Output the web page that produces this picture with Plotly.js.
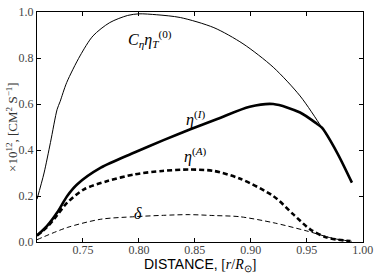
<!DOCTYPE html>
<html><head><meta charset="utf-8">
<script src="https://cdn.plot.ly/plotly-3.0.1.min.js"></script>
<style>html,body{margin:0;padding:0;background:#fff}#c{width:374px;height:274px}</style>
</head><body><div id="c"></div>
<script>
// C_eta * eta_T^(0)
const xC = [0.709, 0.7153, 0.721, 0.727, 0.7296, 0.7355, 0.7474, 0.759, 0.774, 0.79, 0.80, 0.816, 0.837, 0.867, 0.893, 0.920, 0.944, 0.9635, 0.977, 0.990];
const yC = [0.186, 0.30, 0.432, 0.577, 0.61, 0.693, 0.809, 0.896, 0.954, 0.985, 0.992, 0.988, 0.976, 0.932, 0.862, 0.760, 0.635, 0.497, 0.389, 0.258];
// eta^(I)
const xI = [0.709, 0.718, 0.727, 0.736, 0.745, 0.766, 0.796, 0.822, 0.846, 0.870, 0.899, 0.920, 0.944, 0.959, 0.9635, 0.977, 0.9903];
const yI = [0.028, 0.07, 0.128, 0.2, 0.251, 0.323, 0.389, 0.443, 0.49, 0.535, 0.588, 0.600, 0.563, 0.514, 0.497, 0.389, 0.258];
// eta^(A)
const xA = [0.709, 0.718, 0.7242, 0.736, 0.751, 0.772, 0.796, 0.821, 0.845, 0.867, 0.890, 0.920, 0.938, 0.953, 0.968, 0.989];
const yA = [0.028, 0.065, 0.099, 0.171, 0.229, 0.265, 0.294, 0.309, 0.315, 0.309, 0.276, 0.200, 0.120, 0.055, 0.019, 0.004];
// delta
const xD = [0.709, 0.736, 0.766, 0.796, 0.822, 0.845, 0.867, 0.890, 0.920, 0.950, 0.974, 0.990];
const yD = [0.010, 0.063, 0.099, 0.110, 0.116, 0.119, 0.115, 0.110, 0.084, 0.048, 0.015, 0.003];

const xTicks = [0.75, 0.80, 0.85, 0.90, 0.95, 1.00];
const xTickText = ["0.75", "0.80", "0.85", "0.90", "0.95", "1.00"];
const yTicks = [0.0, 0.2, 0.4, 0.6, 0.8, 1.0];
const yTickText = ["0.0", "0.2", "0.4", "0.6", "0.8", "1.0"];

const serif = "Liberation Serif";
const traces = [
  {x: xC, y: yC, mode: "lines", line: {color: "#000", width: 1, shape: "spline", smoothing: 0.8}},
  {x: xI, y: yI, mode: "lines", line: {color: "#000", width: 2.6, shape: "spline", smoothing: 0.8}},
  {x: xA, y: yA, mode: "lines", line: {color: "#000", width: 2.6, dash: "5px,3px", shape: "spline", smoothing: 0.8}},
  {x: xD, y: yD, mode: "lines", line: {color: "#000", width: 1, dash: "5px,3px", shape: "spline", smoothing: 0.8}}
];
const ann = (x, y, t) => ({x: x, y: y, xref: "x", yref: "y", text: t, showarrow: false,
  font: {family: serif, size: 16, color: "#000"}});
const layout = {
  width: 374, height: 274,
  margin: {l: 37, r: 11, t: 12, b: 32},
  paper_bgcolor: "#fff", plot_bgcolor: "#fff",
  showlegend: false,
  xaxis: {range: [0.709, 1.0002], tickvals: xTicks, ticktext: xTickText, ticks: "inside", ticklen: 4,
    ticklabelstandoff: -3,
    tickcolor: "#000", showgrid: false, zeroline: false, showline: true, linecolor: "#000", linewidth: 1,
    mirror: "allticks", tickfont: {family: serif, size: 12, color: "#444"}},
  yaxis: {range: [0, 1.0], tickvals: yTicks, ticktext: yTickText, ticks: "inside", ticklen: 4,
    tickcolor: "#000", showgrid: false, zeroline: false, showline: true, linecolor: "#000", linewidth: 1,
    mirror: "allticks", tickfont: {family: serif, size: 12, color: "#444"}},
  annotations: [
    ann(0.810, 0.881, "<i>C<sub>η</sub>η<sub>T</sub></i><sup>(0)</sup>"),
    ann(0.851, 0.535, "<i>η</i><sup>(<i>I</i>)</sup>"),
    ann(0.851, 0.375, "<i>η</i><sup>(<i>A</i>)</sup>"),
    ann(0.799, 0.125, "<i>δ</i>"),
    {xref: "paper", yref: "paper", x: 0.5, y: -0.1, yanchor: "middle", xanchor: "center", showarrow: false,
      text: "<span style='font-family:Liberation Sans'>DISTANCE,</span> [<i>r</i>/<i>R</i><sub>⊙</sub>]",
      font: {family: serif, size: 14, color: "#000"}},
    {xref: "paper", yref: "paper", x: -0.077, y: 0.5, xanchor: "center", yanchor: "middle", textangle: -90, showarrow: false,
      text: "×10<sup>12</sup>, [CM<sup>2</sup> S<sup>−1</sup>]",
      font: {family: serif, size: 13, color: "#333"}}
  ]
};
Plotly.newPlot("c", traces, layout, {staticPlot: true, displayModeBar: false});
</script></body></html>
